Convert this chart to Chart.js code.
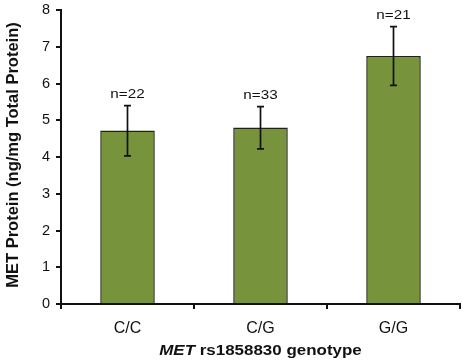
<!DOCTYPE html>
<html>
<head>
<meta charset="utf-8">
<script src="https://cdn.jsdelivr.net/npm/chart.js@4.4.1/dist/chart.umd.min.js"></script>
<style>
  html, body { margin: 0; padding: 0; background: #fff; }
  #wrap { width: 463px; height: 361px; }
</style>
</head>
<body>
<div id="wrap"><canvas id="metChart" width="463" height="361"></canvas></div>
<script>
// genotype groups and their means
const genotypes = ['C/C', 'C/G', 'G/G'];
const metMeans = [4.72, 4.80, 6.75];
const errUpper = [5.40, 5.37, 7.55];
const errLower = [4.03, 4.22, 5.95];
const sampleSizes = ['n=22', 'n=33', 'n=21'];
const yTicks = [0, 1, 2, 3, 4, 5, 6, 7, 8];

const FONT = "'Liberation Sans', Arial, sans-serif";
const STRETCH = 1.13; // source image text looks a bit wide

// error bars + n labels on top of each bar
const errorBarPlugin = {
  id: 'errorBars',
  afterDatasetsDraw(chart) {
    const ctx = chart.ctx;
    const x = chart.scales.x, y = chart.scales.y;
    genotypes.forEach((g, i) => {
      const cx = x.getPixelForValue(i);
      const top = y.getPixelForValue(errUpper[i]);
      const bot = y.getPixelForValue(errLower[i]);
      ctx.save();
      ctx.strokeStyle = '#111';
      ctx.lineWidth = 1.7;
      ctx.beginPath();
      ctx.moveTo(cx, top); ctx.lineTo(cx, bot);
      ctx.moveTo(cx - 3.5, top); ctx.lineTo(cx + 3.5, top);
      ctx.moveTo(cx - 3.5, bot); ctx.lineTo(cx + 3.5, bot);
      ctx.stroke();
      ctx.fillStyle = '#111';
      ctx.font = '13.5px ' + FONT;
      ctx.textAlign = 'center';
      ctx.textBaseline = 'alphabetic';
      ctx.translate(cx, top - 8);
      ctx.scale(STRETCH, 1);
      ctx.fillText(sampleSizes[i], 0, 0);
      ctx.restore();
    });
  }
};

// axis titles (x title has italic gene name)
const titlePlugin = {
  id: 'axisTitles',
  afterDraw(chart) {
    const ctx = chart.ctx;
    const area = chart.chartArea;
    ctx.save();
    ctx.fillStyle = '#111';
    ctx.textBaseline = 'middle';
    // y title
    ctx.font = 'bold 16.5px ' + FONT;
    ctx.translate(13, (area.top + area.bottom) / 2 - 2);
    ctx.rotate(-Math.PI / 2);
    ctx.textAlign = 'center';
    ctx.fillText('MET Protein (ng/mg Total Protein)', 0, 0);
    ctx.restore();

    ctx.save();
    ctx.fillStyle = '#111';
    ctx.textBaseline = 'middle';
    const part1 = 'MET';
    const part2 = ' rs1858830 genotype';
    ctx.font = 'italic bold 15px ' + FONT;
    const w1 = ctx.measureText(part1).width;
    ctx.font = 'bold 15px ' + FONT;
    const w2 = ctx.measureText(part2).width;
    const cx = (area.left + area.right) / 2;
    ctx.translate(cx, 351);
    ctx.scale(STRETCH, 1);
    const sx = -(w1 + w2) / 2;
    ctx.textAlign = 'left';
    ctx.font = 'italic bold 15px ' + FONT;
    ctx.fillText(part1, sx, 0);
    ctx.font = 'bold 15px ' + FONT;
    ctx.fillText(part2, sx + w1, 0);
    ctx.restore();
  }
};

const ctx = document.getElementById('metChart').getContext('2d');
const metChart = new Chart(ctx, {
  type: 'bar',
  data: {
    labels: genotypes,
    datasets: [{
      data: metMeans,
      backgroundColor: '#77933c',
      borderColor: '#1e2410',
      borderWidth: 1.5,
      barPercentage: 0.82,
      categoryPercentage: 0.5
    }]
  },
  options: {
    responsive: false,
    animation: false,
    layout: { padding: { left: 0, right: 3, top: 10, bottom: 0 } },
    plugins: {
      legend: { display: false },
      tooltip: { enabled: false }
    },
    scales: {
      x: {
        offset: true,
        grid: {
          offset: true,
          drawOnChartArea: false,
          drawTicks: true,
          tickLength: 5,
          color: '#111',
          lineWidth: 2
        },
        border: { color: '#111', width: 2 },
        ticks: {
          color: '#111',
          font: { family: FONT, size: 16 },
          padding: 10
        },
        afterFit(scale) {
          scale.height = 57;
          scale.paddingLeft = 0;
          scale.paddingRight = 0;
        }
      },
      y: {
        min: 0,
        max: 8,
        afterBuildTicks(scale) { scale.ticks = yTicks.map(v => ({ value: v })); },
        grid: {
          drawOnChartArea: false,
          drawTicks: true,
          tickLength: 5,
          color: '#111',
          lineWidth: 2
        },
        border: { color: '#111', width: 2 },
        ticks: {
          color: '#111',
          font: { family: FONT, size: 14.5 },
          padding: 6
        },
        afterFit(scale) {
          scale.width = 61;
          scale.paddingTop = 0;
          scale.paddingBottom = 0;
        }
      }
    }
  },
  plugins: [errorBarPlugin, titlePlugin]
});
</script>
</body>
</html>
